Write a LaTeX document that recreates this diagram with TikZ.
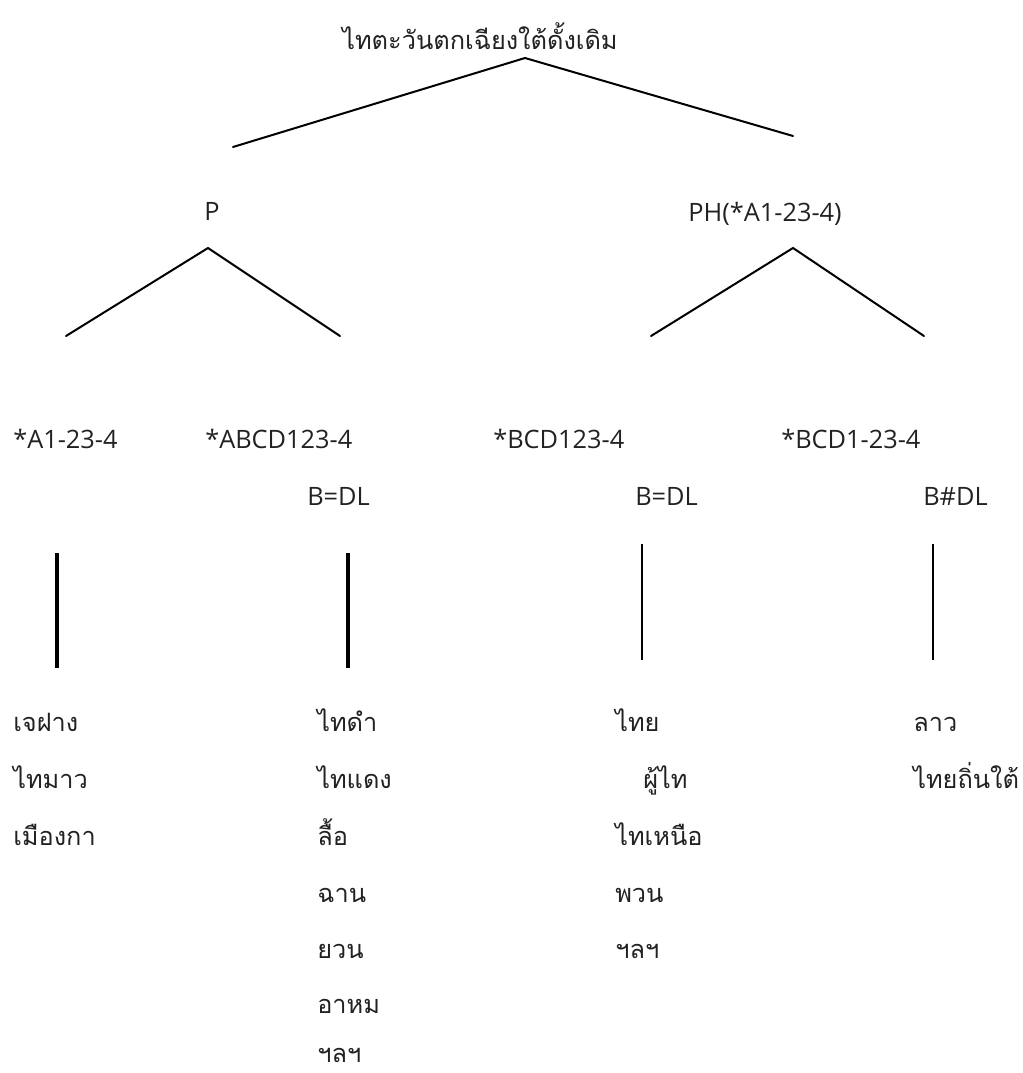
\documentclass[tikz,border=0pt]{standalone}
\usepackage{fontspec}
\setmainfont{Open Sans}
\newfontfamily\thaifont[Script=Thai]{Loma}
\definecolor{ink}{HTML}{222222}
\begin{document}
\begin{tikzpicture}[x=0.75pt,y=-0.75pt,
  lat/.style={inner sep=0pt,anchor=base west,text=ink,font=\fontsize{19}{22}\selectfont},
  th/.style={inner sep=0pt,anchor=base west,text=ink,font=\thaifont\fontsize{19}{23}\selectfont},
  branch/.style={line width=1.5pt,line cap=round},
  stemA/.style={line width=2.3pt},
  stemB/.style={line width=1.6pt}]
\useasboundingbox (0,0) rectangle (1022,1073);
% title
\node[th,anchor=base] (root) at (480,50) {ไทตะวันตกเฉียงใต้ดั้งเดิม};
\coordinate (rootApex) at (525,58);
\coordinate (rootL) at (233,147);
\coordinate (rootR) at (793,136);
\draw[branch] (rootL) -- (rootApex) -- (rootR);
% level 2
\node[lat,anchor=base] (P) at (212,221) {P};
\node[lat,anchor=base] (PH) at (765,222) {PH(*A1-23-4)};
\coordinate (pApex) at (208,248);
\coordinate (pL) at (66,336);
\coordinate (pR) at (340,336);
\coordinate (phApex) at (793,248);
\coordinate (phL) at (651,336);
\coordinate (phR) at (924,336);
\draw[branch] (pL) -- (pApex) -- (pR);
\draw[branch] (phL) -- (phApex) -- (phR);
% level 3
\node[lat] (a1) at (13,448) {*A1-23-4};
\node[lat] (a2) at (205,448) {*ABCD123-4};
\node[lat] (a3) at (493,448) {*BCD123-4};
\node[lat] (a4) at (781,448) {*BCD1-23-4};
\node[lat] (b2) at (307,505) {B=DL};
\node[lat] (b3) at (635,505) {B=DL};
\node[lat] (b4) at (923,505) {B\#DL};
% stems
\coordinate (s1t) at (57,553); \coordinate (s1b) at (57,668);
\coordinate (s2t) at (348,553); \coordinate (s2b) at (348,668);
\coordinate (s3t) at (642,544); \coordinate (s3b) at (642,660);
\coordinate (s4t) at (933,544); \coordinate (s4b) at (933,660);
\draw[stemA] (s1t) -- (s1b);
\draw[stemA] (s2t) -- (s2b);
\draw[stemB] (s3t) -- (s3b);
\draw[stemB] (s4t) -- (s4b);
% column 1
\node[th] (c1a) at (13,731) {เจฝาง};
\node[th] (c1b) at (13,788) {ไทมาว};
\node[th] (c1c) at (13,845) {เมืองกา};
% column 2
\node[th] (c2a) at (317,731) {ไทดำ};
\node[th] (c2b) at (317,788) {ไทแดง};
\node[th] (c2c) at (317,845) {ลื้อ};
\node[th] (c2d) at (317,902) {ฉาน};
\node[th] (c2e) at (317,958) {ยวน};
\node[th] (c2f) at (317,1013) {อาหม};
\node[th] (c2g) at (317,1062) {ฯลฯ};
% column 3
\node[th] (c3a) at (615,731) {ไทย};
\node[th] (c3b) at (643,788) {ผู้ไท};
\node[th] (c3c) at (615,845) {ไทเหนือ};
\node[th] (c3d) at (615,902) {พวน};
\node[th] (c3e) at (615,958) {ฯลฯ};
% column 4
\node[th] (c4a) at (913,731) {ลาว};
\node[th] (c4b) at (913,788) {ไทยถิ่นใต้};
\end{tikzpicture}
\end{document}
